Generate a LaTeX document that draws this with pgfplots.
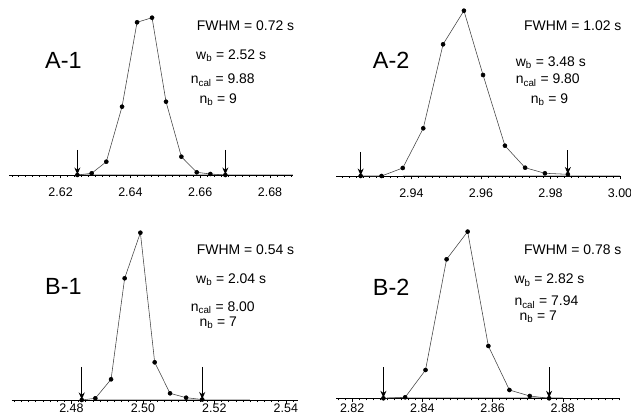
\documentclass[border=0pt]{standalone}
\usepackage{pgfplots}
\pgfplotsset{compat=1.18}
\usepackage{fontspec}
\setmainfont{Liberation Sans}
\usetikzlibrary{arrows.meta}

\pgfplotsset{peak/.style={
  scale only axis, height=170bp, ymin=0, ymax=170, clip=false,
  axis x line=bottom, axis y line=none,
  axis line style={-, line width=0.7bp},
  tick align=outside,
  major tick length=3.5bp, minor tick length=2bp,
  every tick/.style={black, line width=0.45bp},
  /pgf/number format/.cd, fixed, fixed zerofill, precision=2, assume math mode=true, /pgfplots/.cd,
  xticklabel style={font=\fontsize{12.5}{12.5}\selectfont, anchor=base, inner sep=0pt, yshift=-18bp},
  anchor=south west,
},
trace/.style={black!75, line width=0.55bp, mark=*, mark size=2bp, mark options={black, fill=black}},
}
\tikzset{lab/.style={anchor=base west, inner sep=0pt, font=\fontsize{14}{14}\selectfont},
  big/.style={anchor=base west, inner sep=0pt, font=\fontsize{23.5}{23.5}\selectfont},
  arr/.style={-{Stealth[length=7bp,width=6bp]}, line width=1bp, black}}

\begin{document}
\begin{tikzpicture}
\useasboundingbox (0,0) rectangle (631bp,416bp);

% A-1
\begin{axis}[peak, at={(9.3bp,241bp)}, width=283.4bp, xmin=2.6053, xmax=2.6865,
  xtick={2.62,2.64,2.66,2.68}, minor xtick={2.606,2.608,...,2.686}]
\addplot[gray!50, line width=1.2bp, forget plot] coordinates {(2.6250,0.6) (2.6865,0.6)};
\addplot[trace] coordinates {(2.6248,0) (2.6289,1.7) (2.6331,13.3) (2.6376,68.3) (2.6419,152.7) (2.6462,157.3) (2.6502,73.3) (2.6546,18.3) (2.6590,2.7) (2.6629,1) (2.6672,0)};
\draw[arr] (axis cs:2.6248,25) -- (axis cs:2.6248,0.5);
\draw[arr] (axis cs:2.6672,25) -- (axis cs:2.6672,0.5);
\end{axis}

% A-2
\begin{axis}[peak, at={(336bp,240bp)}, width=284bp, xmin=2.9183, xmax=3.0,
  xtick={2.94,2.96,2.98,3.00}, minor xtick={2.920,2.922,...,3.000}]
\addplot[gray!50, line width=1.2bp, forget plot] coordinates {(2.9375,0.6) (3.0,0.6)};
\addplot[trace] coordinates {(2.9254,0) (2.9314,0) (2.9375,8) (2.9434,47.7) (2.9491,131.7) (2.9551,165.3) (2.9606,101) (2.9669,30.3) (2.9727,8.3) (2.9784,2.7) (2.9850,1.7)};
\draw[arr] (axis cs:2.9254,24) -- (axis cs:2.9254,0.5);
\draw[arr] (axis cs:2.9850,25.5) -- (axis cs:2.9850,2);
\end{axis}

% B-1
\begin{axis}[peak, at={(11.7bp,16bp)}, width=286.3bp, xmin=2.4633, xmax=2.5434,
  xtick={2.48,2.50,2.52,2.54}, minor xtick={2.464,2.466,...,2.544},
  xticklabel style={yshift=9bp}]
\addplot[gray!50, line width=1.2bp, forget plot] coordinates {(2.4870,0.6) (2.5300,0.6)};
\addplot[trace] coordinates {(2.4829,0) (2.4867,1.7) (2.4911,20.7) (2.4949,121.7) (2.4993,167.3) (2.5033,37.7) (2.5076,6.7) (2.5121,2.3) (2.5166,0.5)};
\draw[arr] (axis cs:2.4829,33) -- (axis cs:2.4829,0.5);
\draw[arr] (axis cs:2.5166,33) -- (axis cs:2.5166,1);
\end{axis}

% B-2
\begin{axis}[peak, at={(336bp,17.7bp)}, width=284bp, xmin=2.8154, xmax=2.8963,
  xtick={2.82,2.84,2.86,2.88}, minor xtick={2.816,2.818,...,2.896},
  xticklabel style={yshift=7.5bp}]
\addplot[gray!50, line width=1.2bp, forget plot] coordinates {(2.8300,0.6) (2.8800,0.6)};
\addplot[trace] coordinates {(2.8289,0) (2.8351,1) (2.8409,28.3) (2.8469,139) (2.8529,166.7) (2.8588,52.3) (2.8648,8.3) (2.8706,2.3) (2.8761,0)};
\draw[arr] (axis cs:2.8289,31) -- (axis cs:2.8289,0.5);
\draw[arr] (axis cs:2.8761,31) -- (axis cs:2.8761,0.5);
\end{axis}

% annotations A-1
\node[big] at (45bp,347.7bp) {A-1};
\node[lab] at (196.7bp,385.3bp) {FWHM = 0.72 s};
\node[lab] at (196bp,356.7bp) {w\textsubscript{b} = 2.52 s};
\node[lab] at (190.7bp,332bp) {n\textsubscript{cal} = 9.88};
\node[lab] at (199.3bp,312.7bp) {n\textsubscript{b} = 9};
% A-2
\node[big] at (372.7bp,347.7bp) {A-2};
\node[lab] at (524bp,385.3bp) {FWHM = 1.02 s};
\node[lab] at (515.7bp,349.3bp) {w\textsubscript{b} = 3.48 s};
\node[lab] at (515.7bp,332bp) {n\textsubscript{cal} = 9.80};
\node[lab] at (530.7bp,312.7bp) {n\textsubscript{b} = 9};
% B-1
\node[big] at (45bp,121bp) {B-1};
\node[lab] at (196.7bp,161bp) {FWHM = 0.54 s};
\node[lab] at (196bp,132.7bp) {w\textsubscript{b} = 2.04 s};
\node[lab] at (190.7bp,104.3bp) {n\textsubscript{cal} = 8.00};
\node[lab] at (199.3bp,89.3bp) {n\textsubscript{b} = 7};
% B-2
\node[big] at (372.7bp,120bp) {B-2};
\node[lab] at (524bp,161bp) {FWHM = 0.78 s};
\node[lab] at (514.3bp,132bp) {w\textsubscript{b} = 2.82 s};
\node[lab] at (514.3bp,110bp) {n\textsubscript{cal} = 7.94};
\node[lab] at (519.3bp,95.3bp) {n\textsubscript{b} = 7};
\end{tikzpicture}
\end{document}
